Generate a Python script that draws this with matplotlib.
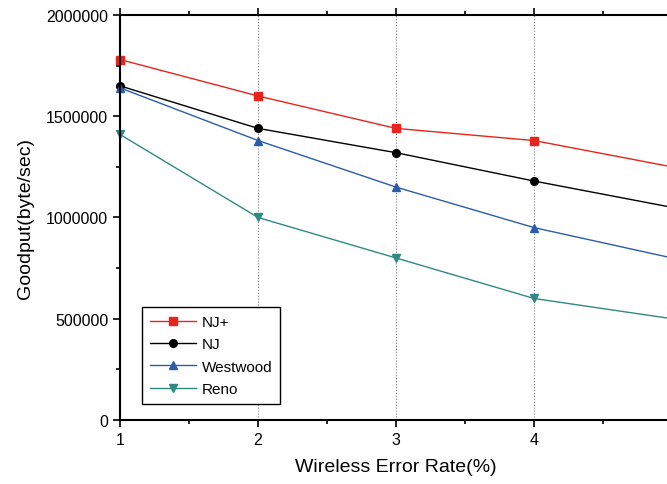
import matplotlib.pyplot as plt
from matplotlib.ticker import MultipleLocator, ScalarFormatter

plt.rcParams['font.family'] = ['Liberation Sans', 'DejaVu Sans']

error_rate = [1, 2, 3, 4, 5]
nj_plus = [1780000, 1600000, 1440000, 1380000, 1250000]
nj = [1650000, 1440000, 1320000, 1180000, 1050000]
westwood = [1640000, 1380000, 1150000, 950000, 800000]
reno = [1410000, 1000000, 800000, 600000, 500000]

series = [
    ("NJ+", nj_plus, "#e8241c", "s"),
    ("NJ", nj, "black", "o"),
    ("Westwood", westwood, "#2a5caa", "^"),
    ("Reno", reno, "#2f8a84", "v"),
]

fig = plt.figure(figsize=(6.67, 4.85), dpi=100)
# the original is cropped on the right, so the axes run past the figure edge
ax = fig.add_axes([0.18, 0.132, 0.8276, 0.835])

for name, vals, color, marker in series:
    ax.plot(error_rate, vals, color=color, marker=marker, markersize=5.5,
            linewidth=1, label=name, clip_on=False)

ax.set_xlim(1, 5)
ax.set_ylim(0, 2000000)
ax.xaxis.set_major_locator(MultipleLocator(1))
ax.xaxis.set_minor_locator(MultipleLocator(0.5))
ax.yaxis.set_major_locator(MultipleLocator(500000))
ax.yaxis.set_minor_locator(MultipleLocator(250000))
fmt = ScalarFormatter(useOffset=False)
fmt.set_scientific(False)
ax.yaxis.set_major_formatter(fmt)
ax.tick_params(which='both', direction='out', top=True, labelsize=11.5, width=1.2)
ax.tick_params(which='major', length=5)
ax.tick_params(which='minor', length=3)
ax.grid(axis='x', which='major', linestyle=':', color='gray', linewidth=0.8)
for sp in ax.spines.values():
    sp.set_linewidth(1.5)

ax.set_xlabel("Wireless Error Rate(%)", fontsize=14, labelpad=8)
ax.set_ylabel("Goodput(byte/sec)", fontsize=14, labelpad=9)

leg = ax.legend(loc='lower left', bbox_to_anchor=(0.04, 0.04), borderaxespad=0,
                fontsize=11, fancybox=False, edgecolor='black', framealpha=1,
                handlelength=3, handletextpad=0.4, borderpad=0.5,
                labelspacing=0.55)
leg.get_frame().set_linewidth(1)

fig.savefig("out.png", dpi=100)
